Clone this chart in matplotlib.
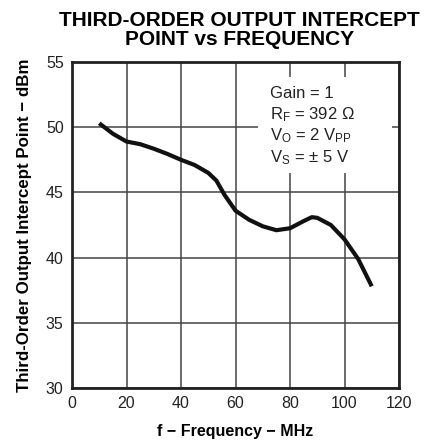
import matplotlib
matplotlib.use("Agg")
from matplotlib import pyplot as plt
from matplotlib.patches import Rectangle

plt.rcParams['font.family'] = ['Liberation Sans', 'DejaVu Sans']
plt.rcParams['mathtext.fontset'] = 'custom'
plt.rcParams['mathtext.rm'] = 'Liberation Sans'
plt.rcParams['mathtext.it'] = 'Liberation Sans'

freq = [10, 15, 20, 25, 30, 35, 40, 45, 50, 53, 56, 60, 65, 70, 75, 80, 85, 88, 90, 95, 100, 105, 110]
oip3 = [50.3, 49.5, 48.9, 48.7, 48.35, 47.95, 47.5, 47.1, 46.5, 45.9, 44.8, 43.6, 42.9, 42.4, 42.1,
        42.25, 42.8, 43.1, 43.05, 42.5, 41.4, 39.9, 37.8]
xticks = [0, 20, 40, 60, 80, 100, 120]
yticks = [30, 35, 40, 45, 50, 55]
notes = ['Gain = 1', r'R$_\mathrm{F}$ = 392 $\Omega$', r'V$_\mathrm{O}$ = 2 V$_\mathrm{PP}$', r'V$_\mathrm{S}$ = $\pm$ 5 V']

fig = plt.figure(figsize=(4.40, 4.42), dpi=100)
ax = fig.add_axes([72/440, 1-388/442, (399-72)/440, (388-62)/442])
ax.set_xlim(0, 120)
ax.set_ylim(30, 55)
ax.set_xticks(xticks)
ax.set_yticks(yticks)
ax.tick_params(length=0, labelsize=11.5, pad=6, colors='#222222')
ax.tick_params(axis='y', labelrotation=0)
ax.grid(True, color='#444444', linewidth=1.1)
ax.set_axisbelow(True)
for s in ax.spines.values():
    s.set_linewidth(2)
    s.set_color('#222222')

# white box behind the conditions text
ax.add_patch(Rectangle(((258-72)/327, 1-(173-62)/326), (392-258)/327, (173-77)/326,
                       transform=ax.transAxes, facecolor='white', edgecolor='none', zorder=1.5))
for i, t in enumerate(notes):
    ax.text((270-72)/327, 1-(93-62+21.5*i)/326, t, transform=ax.transAxes, fontsize=12,
            va='center', ha='left', color='#222222', zorder=2)

ax.plot(freq, oip3, color='#111111', linewidth=3.0, solid_joinstyle='round', solid_capstyle='butt', zorder=3)

ax.set_xlabel('f − Frequency − MHz', fontsize=11.5, fontweight='bold', labelpad=9)
ax.set_ylabel('Third-Order Output Intercept Point − dBm', fontsize=12.2, fontweight='bold', labelpad=10)
fig.text(0.545, 0.932, 'THIRD-ORDER OUTPUT INTERCEPT\nPOINT vs FREQUENCY', ha='center', va='center',
         fontsize=15, fontweight='bold', linespacing=1.05)

plt.savefig('out.png', format='png', dpi=100)
